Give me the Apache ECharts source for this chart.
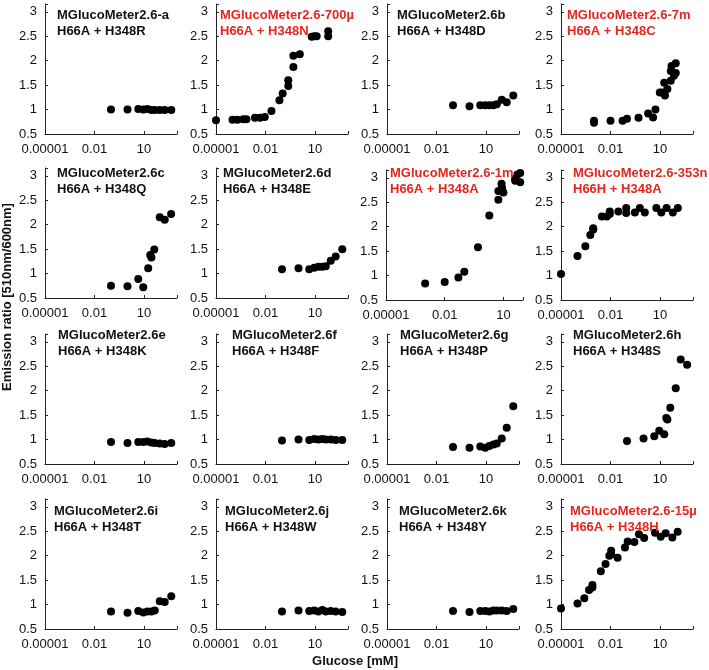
<!DOCTYPE html>
<html>
<head>
<meta charset="utf-8">
<script src="https://cdn.jsdelivr.net/npm/echarts@6/dist/echarts.min.js"></script>
<style>
html, body { margin: 0; background: #fff; }
#chart { width: 709px; height: 670px; }
</style>
</head>
<body>
<div id="chart"></div>
<script>
// glucose concentrations (mM) shared by the single-screen panels
let conc10 = [0.1, 1, 4.5, 9, 16, 28, 45, 90, 180, 450];
let conc11 = [0.1, 1, 4.5, 9, 18, 24, 28, 42, 90, 180, 440];

// emission ratios
let yA = [1.0, 1.0, 1.01, 1.0, 1.01, 0.99, 0.99, 0.99, 0.99, 0.99];
let yB = [1.09, 1.07, 1.09, 1.09, 1.09, 1.09, 1.11, 1.2, 1.15, 1.29];
let yD = [1.09, 1.11, 1.09, 1.12, 1.14, 1.14, 1.15, 1.26, 1.35, 1.5];
let yE = [0.95, 0.93, 0.95, 0.95, 0.96, 0.94, 0.93, 0.92, 0.91, 0.93];
let yF = [0.98, 1.0, 0.99, 1.01, 1.0, 1.01, 1.0, 1.0, 0.99, 0.99];
let yG = [0.85, 0.83, 0.86, 0.83, 0.87, 0.9, 0.92, 1.02, 1.24, 1.68];
let yI = [0.86, 0.83, 0.87, 0.84, 0.86, 0.86, 0.88, 1.07, 1.05, 1.17];
let yJ = [0.86, 0.88, 0.87, 0.88, 0.86, 0.89, 0.86, 0.87, 0.86, 0.85];
let yK = [0.87, 0.85, 0.87, 0.87, 0.86, 0.88, 0.88, 0.88, 0.87, 0.91];
let yC = [0.75, 0.74, 0.89, 0.72, 1.11, 1.38, 1.33, 1.49, 2.15, 2.1, 2.22];
let yH = [0.97, 1.02, 1.07, 1.18, 1.11, 1.44, 1.41, 1.65, 2.05, 2.64, 2.53];

// titrated panels (own concentration series)
let x700u = [0.00001, 0.0001, 0.0002, 0.00045, 0.0007, 0.0023, 0.0047, 0.009, 0.023, 0.07, 0.11, 0.24, 0.24, 0.49, 0.49, 1.2, 6.3, 9, 12.6, 63, 63];
let y700u = [0.78, 0.79, 0.79, 0.8, 0.8, 0.83, 0.83, 0.85, 0.97, 1.19, 1.33, 1.48, 1.6, 1.87, 2.1, 2.13, 2.49, 2.5, 2.5, 2.6, 2.5];
let x7m = [0.001, 0.001, 0.01, 0.054, 0.1, 0.5, 1.9, 3.8, 5.3, 9.7, 14, 18, 20, 28, 45, 45, 50, 70, 90, 90];
let y7m = [0.73, 0.77, 0.77, 0.77, 0.81, 0.83, 0.92, 0.84, 1.0, 1.35, 1.35, 1.55, 1.29, 1.42, 1.59, 1.79, 1.89, 1.69, 1.95, 1.75];
let x1m = [0.001, 0.01, 0.05, 0.1, 0.5, 1.9, 5.5, 5.5, 8, 8.5, 10, 40, 40, 52, 72, 72];
let y1m = [0.84, 0.87, 0.96, 1.08, 1.58, 2.23, 2.55, 2.73, 2.88, 2.79, 2.7, 2.98, 2.94, 3.07, 3.1, 2.91];
let x353n = [0.00001, 0.0001, 0.0003, 0.0006, 0.0009, 0.0009, 0.003, 0.006, 0.009, 0.009, 0.03, 0.09, 0.09, 0.3, 0.6, 1.2, 6, 12, 25, 60, 120];
let y353n = [1.03, 1.4, 1.6, 1.83, 1.97, 1.94, 2.21, 2.21, 2.31, 2.26, 2.31, 2.28, 2.38, 2.29, 2.38, 2.29, 2.38, 2.29, 2.38, 2.29, 2.38];
let x15u = [0.00001, 0.0001, 0.00026, 0.0005, 0.0008, 0.0008, 0.0026, 0.005, 0.0085, 0.011, 0.011, 0.027, 0.075, 0.11, 0.28, 0.53, 1.1, 5, 11, 22, 56, 117];
let y15u = [0.92, 1.02, 1.13, 1.3, 1.35, 1.4, 1.68, 1.83, 2.0, 2.1, 2.03, 1.96, 2.17, 2.29, 2.28, 2.44, 2.36, 2.47, 2.39, 2.46, 2.37, 2.49];

let names = ['MGlucoMeter2.6-a', 'MGlucoMeter2.6-700µ', 'MGlucoMeter2.6b', 'MGlucoMeter2.6-7m',
             'MGlucoMeter2.6c', 'MGlucoMeter2.6d', 'MGlucoMeter2.6-1m', 'MGlucoMeter2.6-353n',
             'MGlucoMeter2.6e', 'MGlucoMeter2.6f', 'MGlucoMeter2.6g', 'MGlucoMeter2.6h',
             'MGlucoMeter2.6i', 'MGlucoMeter2.6j', 'MGlucoMeter2.6k', 'MGlucoMeter2.6-15µ'];
let mutants = ['H66A + H348R', 'H66A + H348N', 'H66A + H348D', 'H66A + H348C',
               'H66A + H348Q', 'H66A + H348E', 'H66A + H348A', 'H66H + H348A',
               'H66A + H348K', 'H66A + H348F', 'H66A + H348P', 'H66A + H348S',
               'H66A + H348T', 'H66A + H348W', 'H66A + H348Y', 'H66A + H348H'];
let highlighted = [1, 3, 6, 7, 15];

let xTickLabels = ['0.00001', '0.01', '10'];
let xTickExp = [-5, -2, 1];
let yTickLabels = ['0.5', '1', '1.5', '2', '2.5', '3'];

let panelX = [conc10, x700u, conc10, x7m, conc11, conc10, x1m, x353n,
              conc10, conc10, conc10, conc11, conc10, conc10, conc10, x15u];
let panelY = [yA, y700u, yB, y7m, yC, yD, y1m, y353n,
              yE, yF, yG, yH, yI, yJ, yK, y15u];

// layout
let colLeft = [45, 216, 387, 561];
let rowBottom = [134, 298, 464, 629];
let titleTop = [7, 165, 327, 503];
let titleLeft = [57, 220, 397, 567, 57, 223, 390, 573, 58, 232, 400, 573, 54, 225, 399, 570];
const FONT = '"Liberation Sans", Arial, sans-serif';
const RED = '#e3261f';

let grids = [], xAxes = [], yAxes = [], series = [], titles = [];
for (let i = 0; i < 16; i++) {
    let r = Math.floor(i / 4), c = i % 4;
    let bottom = rowBottom[r];
    if (i == 6 || i == 7) bottom = 300;
    let left = colLeft[c];
    let width = 132;
    let xmax = 1000;
    if (i == 6) { left = 386; width = 137; xmax = 100; }
    grids.push({ left: left, top: bottom - 130, width: width, height: 130 });
    xAxes.push({
        type: 'log', gridIndex: i, logBase: 10, min: 0.00001, max: xmax, interval: 3,
        axisLine: { lineStyle: { color: '#222', width: 1 } },
        axisTick: { inside: true, length: 3, lineStyle: { color: '#222' } },
        splitLine: { show: false },
        axisLabel: {
            margin: 9, color: '#111', fontSize: 13, fontFamily: FONT,
            formatter: function (v) {
                let k = xTickExp.indexOf(Math.round(Math.log10(v)));
                return k >= 0 ? xTickLabels[k] : '';
            }
        }
    });
    yAxes.push({
        type: 'value', gridIndex: i, min: 0.5, max: 3.16, interval: 0.5,
        axisLine: { show: true, lineStyle: { color: '#222', width: 1 } },
        axisTick: { show: true, inside: true, length: 3, lineStyle: { color: '#222' } },
        splitLine: { show: false },
        axisLabel: {
            margin: 8, color: '#111', fontSize: 13, fontFamily: FONT,
            formatter: function (v) {
                let k = Math.round((v - 0.5) / 0.5);
                return Math.abs(v - 0.5 - k * 0.5) < 0.001 && k < yTickLabels.length ? yTickLabels[k] : '';
            }
        }
    });
    series.push({
        type: 'scatter', xAxisIndex: i, yAxisIndex: i, symbolSize: 8,
        itemStyle: { color: '#000', opacity: 1 },
        data: panelX[i].map((v, j) => [v, panelY[i][j]])
    });
    titles.push({
        text: names[i] + '\n' + mutants[i],
        left: titleLeft[i], top: titleTop[r], padding: 0,
        textStyle: {
            fontSize: 13, fontWeight: 'bold', lineHeight: 16, fontFamily: FONT,
            color: highlighted.indexOf(i) >= 0 ? RED : '#111'
        }
    });
}

let myChart = echarts.init(document.getElementById('chart'));
myChart.setOption({
    animation: false,
    backgroundColor: '#fff',
    title: titles,
    grid: grids,
    xAxis: xAxes,
    yAxis: yAxes,
    series: series,
    graphic: [
        { type: 'text', x: 7, y: 297, rotation: Math.PI / 2,
          style: { text: 'Emission ratio [510nm/600nm]', fill: '#111', font: 'bold 13px ' + FONT,
                   align: 'center', verticalAlign: 'middle' } },
        { type: 'text', x: 355, y: 661,
          style: { text: 'Glucose [mM]', fill: '#111', font: 'bold 13px ' + FONT,
                   align: 'center', verticalAlign: 'middle' } }
    ]
});
</script>
</body>
</html>
